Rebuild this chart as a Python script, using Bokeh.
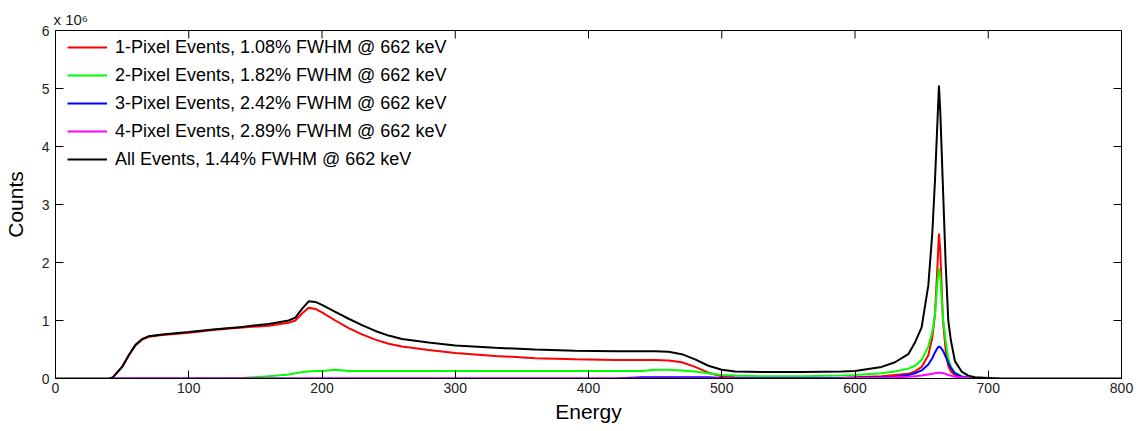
from bokeh.plotting import figure
from bokeh.models import Title, Legend, LegendItem, FixedTicker, Range1d
from bokeh.embed import file_html
from bokeh.resources import INLINE

nan = float("nan")

energy = [0, 40, 43, 50, 55, 60, 65, 70, 80, 100,
          120, 140, 160, 175, 180, 185, 190, 195, 200, 210,
          220, 230, 240, 250, 260, 280, 300, 330, 360, 390,
          420, 440, 450, 460, 470, 480, 490, 500, 510, 530,
          560, 590, 600, 620, 630, 640, 645, 650, 655, 658,
          660, 662, 663, 664, 666, 668, 670, 672, 675, 680,
          685, 690, 700, 710, 800]

# counts in units of 1e6
one_pixel = [nan, nan, 0.02, 0.2, 0.4, 0.57, 0.67, 0.72, 0.75, 0.79,
             0.84, 0.88, 0.91, 0.96, 1.0, 1.12, 1.22, 1.2, 1.14, 1.0,
             0.87, 0.76, 0.67, 0.6, 0.55, 0.49, 0.44, 0.39, 0.35, 0.33,
             0.32, 0.32, 0.32, 0.31, 0.28, 0.2, 0.1, 0.04, 0.02, 0.01,
             0.01, 0.01, 0.02, 0.04, 0.06, 0.08, 0.12, 0.2, 0.4, 0.7,
             1.1, 2.0, 2.5, 2.2, 1.0, 0.5, 0.22, 0.12, 0.06, 0.02,
             0.01, 0.005, 0.0, nan, nan]
two_pixel = [nan, nan, 0.0, 0.0, 0.0, 0.0, 0.0, 0.0, 0.0, 0.0,
             0.0, 0.01, 0.04, 0.07, 0.09, 0.11, 0.12, 0.13, 0.13, 0.15,
             0.13, 0.13, 0.13, 0.13, 0.13, 0.13, 0.13, 0.13, 0.13, 0.13,
             0.13, 0.13, 0.15, 0.15, 0.14, 0.12, 0.09, 0.06, 0.05, 0.04,
             0.04, 0.05, 0.06, 0.09, 0.12, 0.17, 0.22, 0.32, 0.55, 0.8,
             1.1, 1.7, 1.9, 1.75, 1.05, 0.65, 0.35, 0.2, 0.1, 0.04,
             0.02, 0.01, 0.0, nan, nan]
three_pixel = [nan, nan, 0.0, 0.0, 0.0, 0.0, 0.0, 0.0, 0.0, 0.0,
               0.0, 0.0, 0.0, 0.0, 0.0, 0.0, 0.0, 0.0, 0.0, 0.0,
               0.0, 0.0, 0.0, 0.0, 0.0, 0.0, 0.0, 0.0, 0.0, 0.0,
               0.0, 0.02, 0.02, 0.02, 0.02, 0.02, 0.02, 0.01, 0.01, 0.01,
               0.01, 0.01, 0.015, 0.02, 0.03, 0.06, 0.09, 0.14, 0.24, 0.35,
               0.45, 0.53, 0.55, 0.54, 0.48, 0.38, 0.27, 0.18, 0.09, 0.03,
               0.01, 0.005, 0.0, nan, nan]
four_pixel = [nan, nan, 0.0, 0.0, 0.0, 0.0, 0.0, 0.0, 0.0, 0.0,
              0.0, 0.0, 0.0, 0.0, 0.0, 0.0, 0.0, 0.0, 0.0, 0.0,
              0.0, 0.0, 0.0, 0.0, 0.0, 0.0, 0.0, 0.0, 0.0, 0.0,
              0.0, 0.0, 0.0, 0.0, 0.0, 0.0, 0.0, 0.0, 0.0, 0.0,
              0.0, 0.005, 0.01, 0.015, 0.02, 0.03, 0.04, 0.05, 0.07, 0.08,
              0.09, 0.1, 0.1, 0.1, 0.09, 0.08, 0.06, 0.05, 0.03, 0.02,
              0.01, 0.005, 0.0, nan, nan]
all_events = [0.0, 0.0, 0.02, 0.2, 0.4, 0.58, 0.68, 0.73, 0.76, 0.8,
              0.85, 0.89, 0.94, 1.0, 1.05, 1.2, 1.33, 1.32, 1.27, 1.15,
              1.03, 0.92, 0.82, 0.74, 0.68, 0.62, 0.57, 0.53, 0.5, 0.48,
              0.47, 0.47, 0.47, 0.46, 0.42, 0.33, 0.22, 0.15, 0.12, 0.11,
              0.11, 0.12, 0.13, 0.2, 0.28, 0.42, 0.62, 0.88, 1.6, 2.5,
              3.4, 4.5, 5.05, 4.6, 3.3, 2.0, 1.0, 0.65, 0.3, 0.12,
              0.05, 0.02, 0.01, 0.0, 0.0]

series_labels = [
    "1-Pixel Events, 1.08% FWHM @ 662 keV",
    "2-Pixel Events, 1.82% FWHM @ 662 keV",
    "3-Pixel Events, 2.42% FWHM @ 662 keV",
    "4-Pixel Events, 2.89% FWHM @ 662 keV",
    "All Events, 1.44% FWHM @ 662 keV",
]
series_values = [one_pixel, two_pixel, three_pixel, four_pixel, all_events]
series_colors = ["#ff0000", "#00ff00", "#0000ff", "#ff00ff", "#000000"]

x_ticks = [0, 100, 200, 300, 400, 500, 600, 700, 800]
y_ticks = [0, 1, 2, 3, 4, 5, 6]
x_min, x_max = 0, 800
y_min, y_max = 0, 6

FONT = "Liberation Sans"
W, H = 1145, 431
ML, MR, MT, MB = 55, 24, 30, 53
TICK = 8

p = figure(width=W, height=H, output_backend="svg", toolbar_location=None,
           x_range=Range1d(x_min, x_max), y_range=Range1d(y_min, y_max),
           min_border_left=ML, min_border_right=MR, min_border_top=MT, min_border_bottom=MB)
p.xgrid.visible = False
p.ygrid.visible = False
p.outline_line_color = "#000000"
p.outline_line_width = 1
p.background_fill_color = "white"
p.border_fill_color = "white"

for ax, ticks in ((p.xaxis[0], x_ticks), (p.yaxis[0], y_ticks)):
    ax.ticker = FixedTicker(ticks=ticks)
    ax.minor_tick_line_color = None
    ax.major_tick_in = TICK
    ax.major_tick_out = 0
    ax.axis_line_color = "#000000"
    ax.major_tick_line_color = "#000000"
    ax.major_label_text_font = FONT
    ax.major_label_text_font_size = "14px"
    ax.major_label_text_color = "#222222"
    ax.axis_label_text_font = FONT
    ax.axis_label_text_font_style = "normal"
    ax.axis_label_text_color = "#000000"

p.xaxis[0].axis_label = "Energy"
p.xaxis[0].axis_label_text_font_size = "21px"
p.xaxis[0].major_label_standoff = 4
p.xaxis[0].axis_label_standoff = 4
p.yaxis[0].axis_label = "Counts"
p.yaxis[0].axis_label_text_font_size = "21px"
p.yaxis[0].major_label_standoff = 6
p.yaxis[0].axis_label_standoff = 12

# mirrored tick marks on top and right edges of the box
frame_w = W - ML - MR
frame_h = H - MT - MB
dy = TICK / frame_h * (y_max - y_min)
dx = TICK / frame_w * (x_max - x_min)
p.segment(x0=x_ticks, y0=[y_max] * len(x_ticks), x1=x_ticks, y1=[y_max - dy] * len(x_ticks),
          line_color="#000000", line_width=1)
p.segment(x0=[x_max] * len(y_ticks), y0=y_ticks, x1=[x_max - dx] * len(y_ticks), y1=y_ticks,
          line_color="#000000", line_width=1)

items = []
for lab, vals, col in zip(series_labels, series_values, series_colors):
    r = p.line(energy, vals, line_color=col, line_width=2)
    items.append(LegendItem(label=lab, renderers=[r]))

legend = Legend(items=items, location=(12, 205), orientation="vertical",
                label_text_font=FONT, label_text_font_size="18px", label_text_color="#000000",
                glyph_width=40, glyph_height=28, label_height=28, label_standoff=8,
                spacing=0, padding=0, margin=0,
                border_line_alpha=0, background_fill_alpha=0)
p.add_layout(legend, "center")

p.title = Title(text="x 10\u2076", align="left", text_font=FONT, text_font_size="15px",
                text_font_style="normal", text_color="#222222", offset=-2, standoff=5)

open("out.html", "w").write(file_html(p, INLINE))
